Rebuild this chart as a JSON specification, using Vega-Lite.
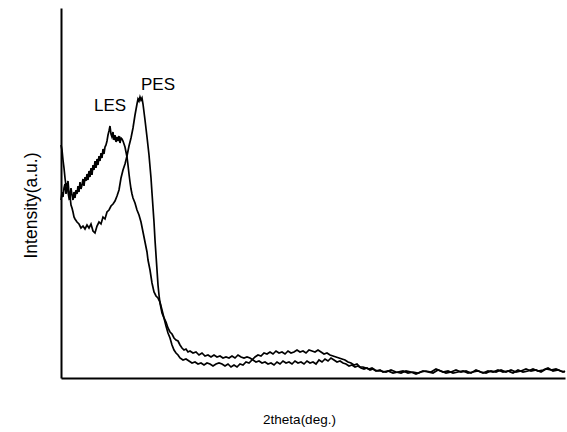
{
"$schema": "https://vega.github.io/schema/vega-lite/v6.json",
"width": 504, "height": 370,
"autosize": {"type": "none"},
"padding": {"left": 61, "top": 8, "right": 2, "bottom": 54},
"background": "white",
"config": {"view": {"stroke": null}, "font": "Liberation Sans"},
"layer": [
{
"data": {"values": [
{"s":"PES","x":0,"y":233},{"s":"PES","x":1,"y":228},{"s":"PES","x":2,"y":218},{"s":"PES","x":3,"y":210},{"s":"PES","x":4,"y":200},{"s":"PES","x":5,"y":192},{"s":"PES","x":6,"y":195},{"s":"PES","x":7,"y":186},{"s":"PES","x":8,"y":180},{"s":"PES","x":9,"y":182},{"s":"PES","x":10,"y":173},{"s":"PES","x":11,"y":170},{"s":"PES","x":12,"y":166},{"s":"PES","x":13,"y":161},{"s":"PES","x":14,"y":159},{"s":"PES","x":16,"y":156},{"s":"PES","x":18,"y":154},{"s":"PES","x":20,"y":150},{"s":"PES","x":22,"y":152},{"s":"PES","x":24,"y":149},{"s":"PES","x":26,"y":153},{"s":"PES","x":28,"y":150},{"s":"PES","x":30,"y":154},{"s":"PES","x":32,"y":147},{"s":"PES","x":34,"y":145},{"s":"PES","x":36,"y":152},{"s":"PES","x":38,"y":156},{"s":"PES","x":40,"y":154},{"s":"PES","x":42,"y":161},{"s":"PES","x":44,"y":159},{"s":"PES","x":46,"y":166},{"s":"PES","x":48,"y":168},{"s":"PES","x":50,"y":172},{"s":"PES","x":52,"y":174},{"s":"PES","x":54,"y":177},{"s":"PES","x":56,"y":182},{"s":"PES","x":58,"y":188},{"s":"PES","x":60,"y":200},{"s":"PES","x":62,"y":208},{"s":"PES","x":64,"y":214},{"s":"PES","x":66,"y":222},{"s":"PES","x":68,"y":232},{"s":"PES","x":70,"y":240},{"s":"PES","x":72,"y":250},{"s":"PES","x":74,"y":263},{"s":"PES","x":76,"y":274},{"s":"PES","x":77,"y":279},{"s":"PES","x":78,"y":277},{"s":"PES","x":79,"y":281},{"s":"PES","x":80,"y":278},{"s":"PES","x":81,"y":280},{"s":"PES","x":82,"y":274},{"s":"PES","x":84,"y":258},{"s":"PES","x":86,"y":241},{"s":"PES","x":88,"y":223},{"s":"PES","x":90,"y":200},{"s":"PES","x":91,"y":185},{"s":"PES","x":93,"y":156},{"s":"PES","x":94,"y":138},{"s":"PES","x":95,"y":123},{"s":"PES","x":96,"y":108},{"s":"PES","x":97,"y":93},{"s":"PES","x":98,"y":83},{"s":"PES","x":99,"y":75},{"s":"PES","x":101,"y":65},{"s":"PES","x":103,"y":60},{"s":"PES","x":105,"y":56},{"s":"PES","x":107,"y":50},{"s":"PES","x":109,"y":46},{"s":"PES","x":111,"y":44},{"s":"PES","x":113,"y":40},{"s":"PES","x":115,"y":38},{"s":"PES","x":117,"y":37},{"s":"PES","x":119,"y":33},{"s":"PES","x":121,"y":30},{"s":"PES","x":123,"y":28},{"s":"PES","x":125,"y":29},{"s":"PES","x":127,"y":26},{"s":"PES","x":129,"y":27},{"s":"PES","x":132,"y":25},{"s":"PES","x":135,"y":26},{"s":"PES","x":138,"y":23},{"s":"PES","x":141,"y":25},{"s":"PES","x":144,"y":22},{"s":"PES","x":147,"y":23},{"s":"PES","x":150,"y":21},{"s":"PES","x":153,"y":23},{"s":"PES","x":156,"y":21},{"s":"PES","x":159,"y":22},{"s":"PES","x":162,"y":20},{"s":"PES","x":165,"y":21},{"s":"PES","x":168,"y":20},{"s":"PES","x":171,"y":22},{"s":"PES","x":174,"y":20},{"s":"PES","x":177,"y":23},{"s":"PES","x":180,"y":21},{"s":"PES","x":183,"y":20},{"s":"PES","x":186,"y":21},{"s":"PES","x":189,"y":20},{"s":"PES","x":192,"y":18},{"s":"PES","x":195,"y":16},{"s":"PES","x":198,"y":17},{"s":"PES","x":201,"y":15},{"s":"PES","x":204,"y":16},{"s":"PES","x":207,"y":14},{"s":"PES","x":210,"y":15},{"s":"PES","x":213,"y":13},{"s":"PES","x":216,"y":16},{"s":"PES","x":219,"y":14},{"s":"PES","x":222,"y":17},{"s":"PES","x":225,"y":15},{"s":"PES","x":228,"y":16},{"s":"PES","x":231,"y":14},{"s":"PES","x":234,"y":17},{"s":"PES","x":237,"y":15},{"s":"PES","x":240,"y":16},{"s":"PES","x":243,"y":14},{"s":"PES","x":246,"y":17},{"s":"PES","x":249,"y":15},{"s":"PES","x":252,"y":16},{"s":"PES","x":255,"y":14},{"s":"PES","x":258,"y":18},{"s":"PES","x":261,"y":16},{"s":"PES","x":264,"y":19},{"s":"PES","x":267,"y":17},{"s":"PES","x":270,"y":20},{"s":"PES","x":273,"y":18},{"s":"PES","x":276,"y":16},{"s":"PES","x":279,"y":17},{"s":"PES","x":282,"y":15},{"s":"PES","x":285,"y":14},{"s":"PES","x":288,"y":12},{"s":"PES","x":291,"y":13},{"s":"PES","x":294,"y":11},{"s":"PES","x":297,"y":12},{"s":"PES","x":300,"y":10},{"s":"PES","x":303,"y":9},{"s":"PES","x":306,"y":10},{"s":"PES","x":309,"y":8},{"s":"PES","x":312,"y":9},{"s":"PES","x":315,"y":7},{"s":"PES","x":319,"y":8},{"s":"PES","x":322,"y":6},{"s":"PES","x":327,"y":7},{"s":"PES","x":332,"y":5},{"s":"PES","x":337,"y":6},{"s":"PES","x":342,"y":7},{"s":"PES","x":347,"y":5},{"s":"PES","x":352,"y":6},{"s":"PES","x":357,"y":5},{"s":"PES","x":362,"y":7},{"s":"PES","x":367,"y":6},{"s":"PES","x":372,"y":5},{"s":"PES","x":377,"y":8},{"s":"PES","x":382,"y":6},{"s":"PES","x":387,"y":7},{"s":"PES","x":392,"y":5},{"s":"PES","x":397,"y":6},{"s":"PES","x":402,"y":7},{"s":"PES","x":407,"y":5},{"s":"PES","x":412,"y":6},{"s":"PES","x":417,"y":7},{"s":"PES","x":422,"y":5},{"s":"PES","x":427,"y":7},{"s":"PES","x":432,"y":6},{"s":"PES","x":437,"y":8},{"s":"PES","x":442,"y":6},{"s":"PES","x":447,"y":7},{"s":"PES","x":452,"y":5},{"s":"PES","x":457,"y":8},{"s":"PES","x":462,"y":6},{"s":"PES","x":467,"y":7},{"s":"PES","x":472,"y":9},{"s":"PES","x":477,"y":7},{"s":"PES","x":482,"y":8},{"s":"PES","x":487,"y":10},{"s":"PES","x":492,"y":7},{"s":"PES","x":497,"y":8},{"s":"PES","x":502,"y":6},{"s":"PES","x":504,"y":7},
{"s":"LES","x":0,"y":178},{"s":"LES","x":1,"y":186},{"s":"LES","x":2,"y":181},{"s":"LES","x":3,"y":190},{"s":"LES","x":4,"y":194},{"s":"LES","x":5,"y":184},{"s":"LES","x":6,"y":191},{"s":"LES","x":7,"y":197},{"s":"LES","x":8,"y":185},{"s":"LES","x":9,"y":181},{"s":"LES","x":10,"y":190},{"s":"LES","x":11,"y":183},{"s":"LES","x":12,"y":178},{"s":"LES","x":13,"y":186},{"s":"LES","x":14,"y":180},{"s":"LES","x":15,"y":188},{"s":"LES","x":16,"y":184},{"s":"LES","x":17,"y":192},{"s":"LES","x":18,"y":186},{"s":"LES","x":19,"y":196},{"s":"LES","x":20,"y":189},{"s":"LES","x":21,"y":193},{"s":"LES","x":22,"y":199},{"s":"LES","x":23,"y":192},{"s":"LES","x":24,"y":201},{"s":"LES","x":25,"y":197},{"s":"LES","x":26,"y":204},{"s":"LES","x":27,"y":198},{"s":"LES","x":28,"y":207},{"s":"LES","x":29,"y":201},{"s":"LES","x":30,"y":210},{"s":"LES","x":31,"y":203},{"s":"LES","x":32,"y":213},{"s":"LES","x":33,"y":208},{"s":"LES","x":34,"y":217},{"s":"LES","x":35,"y":210},{"s":"LES","x":36,"y":219},{"s":"LES","x":37,"y":213},{"s":"LES","x":38,"y":222},{"s":"LES","x":39,"y":217},{"s":"LES","x":40,"y":225},{"s":"LES","x":41,"y":220},{"s":"LES","x":42,"y":229},{"s":"LES","x":43,"y":224},{"s":"LES","x":44,"y":231},{"s":"LES","x":45,"y":233},{"s":"LES","x":46,"y":237},{"s":"LES","x":47,"y":243},{"s":"LES","x":48,"y":247},{"s":"LES","x":49,"y":252},{"s":"LES","x":50,"y":244},{"s":"LES","x":51,"y":241},{"s":"LES","x":52,"y":246},{"s":"LES","x":53,"y":238},{"s":"LES","x":54,"y":243},{"s":"LES","x":55,"y":236},{"s":"LES","x":56,"y":241},{"s":"LES","x":57,"y":237},{"s":"LES","x":58,"y":242},{"s":"LES","x":59,"y":235},{"s":"LES","x":60,"y":240},{"s":"LES","x":61,"y":239},{"s":"LES","x":62,"y":237},{"s":"LES","x":63,"y":234},{"s":"LES","x":64,"y":231},{"s":"LES","x":65,"y":226},{"s":"LES","x":66,"y":221},{"s":"LES","x":67,"y":213},{"s":"LES","x":68,"y":204},{"s":"LES","x":69,"y":196},{"s":"LES","x":70,"y":189},{"s":"LES","x":71,"y":184},{"s":"LES","x":72,"y":180},{"s":"LES","x":74,"y":175},{"s":"LES","x":76,"y":168},{"s":"LES","x":78,"y":163},{"s":"LES","x":80,"y":156},{"s":"LES","x":82,"y":146},{"s":"LES","x":84,"y":136},{"s":"LES","x":86,"y":126},{"s":"LES","x":87,"y":118},{"s":"LES","x":89,"y":108},{"s":"LES","x":91,"y":95},{"s":"LES","x":93,"y":86},{"s":"LES","x":95,"y":82},{"s":"LES","x":97,"y":80},{"s":"LES","x":99,"y":76},{"s":"LES","x":101,"y":68},{"s":"LES","x":103,"y":60},{"s":"LES","x":105,"y":52},{"s":"LES","x":107,"y":45},{"s":"LES","x":109,"y":40},{"s":"LES","x":111,"y":33},{"s":"LES","x":113,"y":28},{"s":"LES","x":115,"y":25},{"s":"LES","x":117,"y":23},{"s":"LES","x":119,"y":20},{"s":"LES","x":122,"y":18},{"s":"LES","x":125,"y":19},{"s":"LES","x":128,"y":17},{"s":"LES","x":131,"y":15},{"s":"LES","x":134,"y":16},{"s":"LES","x":137,"y":14},{"s":"LES","x":140,"y":15},{"s":"LES","x":143,"y":13},{"s":"LES","x":146,"y":15},{"s":"LES","x":149,"y":14},{"s":"LES","x":152,"y":12},{"s":"LES","x":155,"y":14},{"s":"LES","x":158,"y":15},{"s":"LES","x":161,"y":14},{"s":"LES","x":164,"y":12},{"s":"LES","x":167,"y":14},{"s":"LES","x":170,"y":11},{"s":"LES","x":173,"y":13},{"s":"LES","x":176,"y":11},{"s":"LES","x":179,"y":14},{"s":"LES","x":182,"y":13},{"s":"LES","x":185,"y":16},{"s":"LES","x":188,"y":15},{"s":"LES","x":191,"y":18},{"s":"LES","x":194,"y":21},{"s":"LES","x":197,"y":23},{"s":"LES","x":200,"y":22},{"s":"LES","x":203,"y":25},{"s":"LES","x":206,"y":24},{"s":"LES","x":209,"y":26},{"s":"LES","x":212,"y":24},{"s":"LES","x":215,"y":27},{"s":"LES","x":218,"y":25},{"s":"LES","x":221,"y":26},{"s":"LES","x":224,"y":24},{"s":"LES","x":227,"y":27},{"s":"LES","x":230,"y":25},{"s":"LES","x":233,"y":26},{"s":"LES","x":236,"y":28},{"s":"LES","x":239,"y":26},{"s":"LES","x":242,"y":27},{"s":"LES","x":245,"y":25},{"s":"LES","x":248,"y":28},{"s":"LES","x":251,"y":27},{"s":"LES","x":254,"y":26},{"s":"LES","x":257,"y":28},{"s":"LES","x":260,"y":26},{"s":"LES","x":263,"y":24},{"s":"LES","x":266,"y":25},{"s":"LES","x":269,"y":23},{"s":"LES","x":272,"y":22},{"s":"LES","x":275,"y":21},{"s":"LES","x":278,"y":20},{"s":"LES","x":281,"y":19},{"s":"LES","x":284,"y":18},{"s":"LES","x":287,"y":16},{"s":"LES","x":290,"y":15},{"s":"LES","x":293,"y":13},{"s":"LES","x":296,"y":14},{"s":"LES","x":299,"y":11},{"s":"LES","x":302,"y":11},{"s":"LES","x":305,"y":10},{"s":"LES","x":308,"y":9},{"s":"LES","x":311,"y":10},{"s":"LES","x":314,"y":8},{"s":"LES","x":317,"y":7},{"s":"LES","x":320,"y":7},{"s":"LES","x":325,"y":6},{"s":"LES","x":330,"y":8},{"s":"LES","x":335,"y":6},{"s":"LES","x":340,"y":5},{"s":"LES","x":345,"y":7},{"s":"LES","x":350,"y":6},{"s":"LES","x":355,"y":4},{"s":"LES","x":360,"y":6},{"s":"LES","x":365,"y":7},{"s":"LES","x":370,"y":6},{"s":"LES","x":375,"y":9},{"s":"LES","x":380,"y":7},{"s":"LES","x":385,"y":5},{"s":"LES","x":390,"y":6},{"s":"LES","x":395,"y":8},{"s":"LES","x":400,"y":6},{"s":"LES","x":405,"y":7},{"s":"LES","x":410,"y":5},{"s":"LES","x":415,"y":8},{"s":"LES","x":420,"y":6},{"s":"LES","x":425,"y":5},{"s":"LES","x":430,"y":7},{"s":"LES","x":435,"y":6},{"s":"LES","x":440,"y":8},{"s":"LES","x":445,"y":6},{"s":"LES","x":450,"y":8},{"s":"LES","x":455,"y":6},{"s":"LES","x":460,"y":7},{"s":"LES","x":465,"y":9},{"s":"LES","x":470,"y":7},{"s":"LES","x":475,"y":8},{"s":"LES","x":480,"y":6},{"s":"LES","x":485,"y":9},{"s":"LES","x":490,"y":8},{"s":"LES","x":495,"y":9},{"s":"LES","x":500,"y":7},{"s":"LES","x":504,"y":6}
]},
"mark": {"type": "line", "color": "black", "strokeWidth": 1.7},
"encoding": {
"x": {"field": "x", "type": "quantitative", "scale": {"domain": [0, 504], "nice": false, "zero": false},
 "axis": {"title": "2theta(deg.)", "ticks": false, "labels": false, "grid": false, "domainColor": "black", "domainWidth": 2, "titleFont": "Liberation Sans", "titleFontSize": 13.5, "titleFontWeight": "normal", "titleColor": "black", "titleX": 238, "titleY": 34, "titleBaseline": "top", "titleAlign": "center"}},
"y": {"field": "y", "type": "quantitative", "scale": {"domain": [0, 370], "nice": false, "zero": false},
 "axis": {"title": "Intensity(a.u.)", "ticks": false, "labels": false, "grid": false, "domainColor": "black", "domainWidth": 2, "titleFont": "Liberation Sans", "titleFontSize": 17.5, "titleFontWeight": "normal", "titleColor": "black", "titleX": -30, "titleY": 197, "titleAngle": -90, "titleBaseline": "middle", "titleAlign": "center"}},
"detail": {"field": "s", "type": "nominal"}
}
},
{
"data": {"values": [{"label": "PES", "x": 97, "y": 293}, {"label": "LES", "x": 49, "y": 272}]},
"mark": {"type": "text", "fontSize": 17, "font": "Liberation Sans", "color": "black", "align": "center", "baseline": "middle"},
"encoding": {
"x": {"field": "x", "type": "quantitative"},
"y": {"field": "y", "type": "quantitative"},
"text": {"field": "label"}
}
}
]
}
